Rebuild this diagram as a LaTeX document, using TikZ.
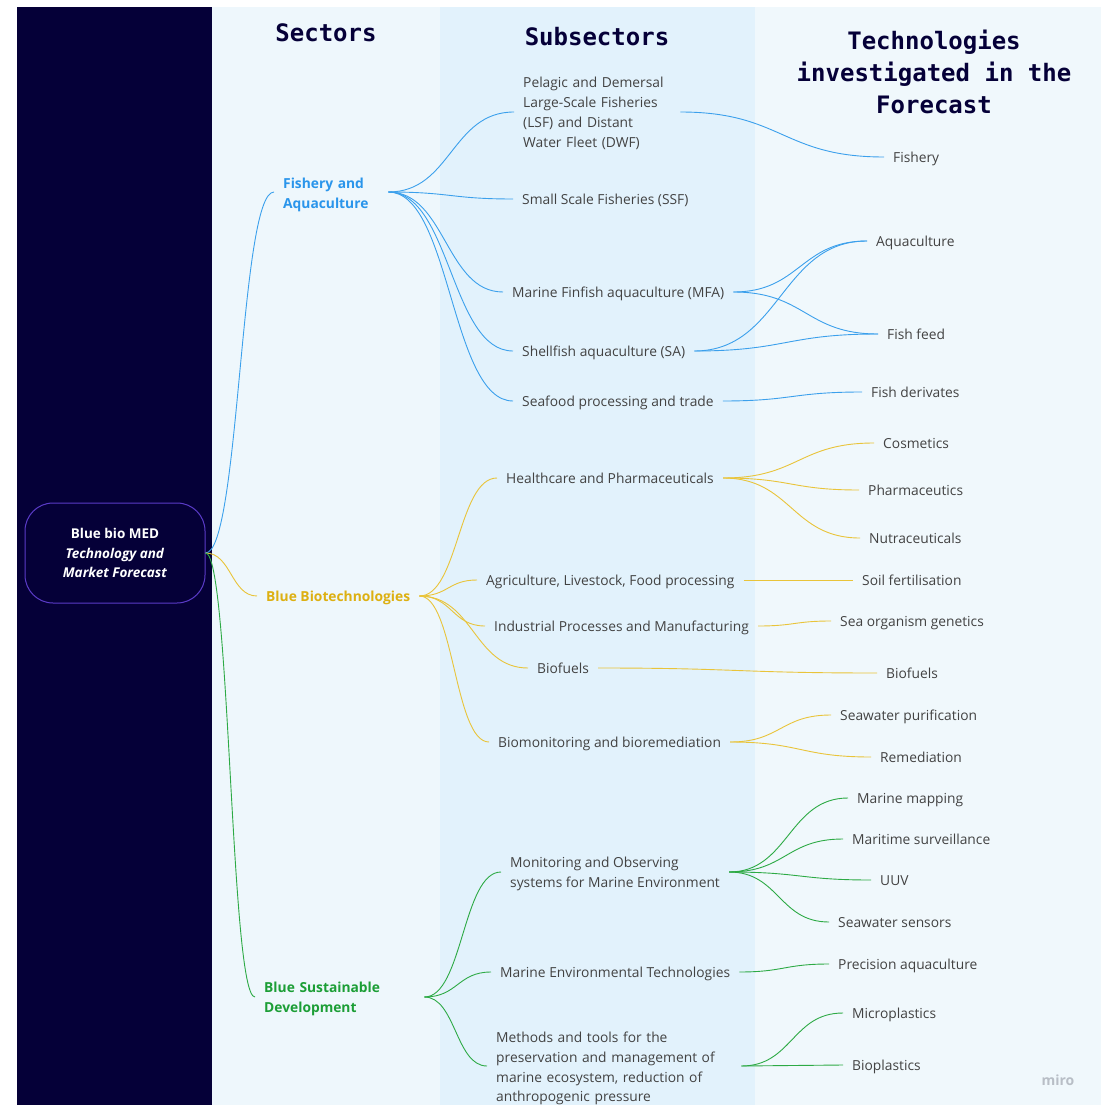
\documentclass[tikz,border=0pt]{standalone}
\usepackage{fontspec}
\setmainfont{Open Sans}
\newfontfamily\headfont{DejaVu Sans Mono}
\usetikzlibrary{calc}
\definecolor{navy}{HTML}{050038}
\definecolor{panelA}{HTML}{EEF7FC}
\definecolor{panelB}{HTML}{E2F2FC}
\definecolor{panelC}{HTML}{F0F8FC}
\definecolor{cblue}{HTML}{3BA0EC}
\definecolor{tblue}{HTML}{2A95EB}
\definecolor{cyel}{HTML}{E9C43A}
\definecolor{tyel}{HTML}{DDB012}
\definecolor{cgrn}{HTML}{2DAA45}
\definecolor{tgrn}{HTML}{1C9E36}
\definecolor{txt}{HTML}{424242}
\definecolor{rootborder}{HTML}{5A3BC8}
\definecolor{wm}{HTML}{B8BEC6}
\newcommand{\lift}[1]{\rule{0pt}{#1pt}}
\begin{document}
\begin{tikzpicture}[x=1pt,y=-1pt,
  every node/.style={inner ysep=2pt, inner xsep=9pt},
  head/.style={font=\headfont\bfseries\fontsize{24}{32}\selectfont, text=navy, align=center},
  item/.style={font=\fontsize{13.8}{19.8}\selectfont, text=txt, anchor=west, align=left,
    text height=14.3pt, text depth=3.3pt},
  multi/.style={text height=, text depth=},
  sector/.style={font=\bfseries\fontsize{13.8}{19.8}\selectfont, anchor=west, align=left,
    text height=14.3pt, text depth=3.3pt},
  root/.style={draw=rootborder, fill=navy, line width=1pt, rounded corners=28pt,
    minimum width=180pt, minimum height=100pt, text=white, align=center,
    font=\bfseries\fontsize{13.5}{19.5}\selectfont},
  link/.style={line width=0.9pt, to path={let \p1=(\tikztostart), \p2=(\tikztotarget) in
    .. controls +({0.5*(\x2-\x1)},0) and +({-0.5*(\x2-\x1)},0) .. (\tikztotarget)}},
  lb/.style={link, draw=cblue},
  ly/.style={link, draw=cyel},
  lg/.style={link, draw=cgrn}
]
\useasboundingbox (0,0) rectangle (1106,1105);
\fill[white] (0,0) rectangle (1106,1105);
\fill[navy] (17,7) rectangle (212,1105);
\fill[panelA] (212,7) rectangle (440,1105);
\fill[panelB] (440,7) rectangle (755,1105);
\fill[panelC] (755,7) rectangle (1101,1105);

% headers
\node[head] (h1) at (326,33) {Sectors};
\node[head] (h2) at (597,37) {Subsectors};
\node[head] (h3) at (934,72) {Technologies\\investigated in the\\Forecast};

% root
\node[root] (root) at (115,553) {Blue bio MED\\\textit{Technology and}\\\textit{Market Forecast}};

% sectors
\node[sector, multi, text=tblue, text width=96pt] (fa) at (274,192) {\lift{16.5}Fishery and\\Aquaculture};
\node[sector, text=tyel] (bb) at (257,596) {Blue Biotechnologies};
\node[sector, multi, text=tgrn, text width=151pt] (bsd) at (255,997) {\lift{14.5}Blue Sustainable\\Development};

% subsectors
\node[item, multi, text width=148pt] (pel) at (514,112) {\lift{13.5}Pelagic and Demersal\\Large-Scale Fisheries\\(LSF) and Distant\\Water Fleet (DWF)};
\node[item] (ssf) at (513,199) {Small Scale Fisheries (SSF)};
\node[item] (mfa) at (503,292) {Marine Finfish aquaculture (MFA)};
\node[item] (sa) at (513,351) {Shellfish aquaculture (SA)};
\node[item] (sea) at (513,401) {Seafood processing and trade};
\node[item] (hc) at (497,478) {Healthcare and Pharmaceuticals};
\node[item] (agr) at (477,580) {Agriculture, Livestock, Food processing};
\node[item] (ind) at (485,626) {Industrial Processes and Manufacturing};
\node[item] (bf) at (528,668) {Biofuels};
\node[item] (bio) at (489,742) {Biomonitoring and bioremediation};
\node[item, multi] (mon) at (501,872) {\lift{14.5}Monitoring and Observing\\systems for Marine Environment};
\node[item] (met) at (491,972) {Marine Environmental Technologies};
\node[item, multi, text width=236pt] (meth) at (487,1066) {\lift{15.5}Methods and tools for the\\preservation and management of\\marine ecosystem, reduction of\\anthropogenic pressure};

% technologies
\node[item] (fish) at (884,157) {Fishery};
\node[item] (aqua) at (867,241) {Aquaculture};
\node[item] (feed) at (878,334) {Fish feed};
\node[item] (deriv) at (862,392) {Fish derivates};
\node[item] (cosm) at (874,443) {Cosmetics};
\node[item] (pharm) at (859,490) {Pharmaceutics};
\node[item] (nutra) at (860,538) {Nutraceuticals};
\node[item] (soil) at (853,580) {Soil fertilisation};
\node[item] (gen) at (831,621) {Sea organism genetics};
\node[item] (biof) at (877,673) {Biofuels};
\node[item] (puri) at (831,715) {Seawater purification};
\node[item] (rem) at (871,757) {Remediation};
\node[item] (map) at (848,798) {Marine mapping};
\node[item] (surv) at (843,839) {Maritime surveillance};
\node[item] (uuv) at (871,880) {UUV};
\node[item] (sens) at (829,922) {Seawater sensors};
\node[item] (prec) at (829,964) {Precision aquaculture};
\node[item] (micro) at (843,1013) {Microplastics};
\node[item] (biopl) at (843,1065) {Bioplastics};

\node[font=\bfseries\fontsize{14}{16}\selectfont, text=wm] (miro) at (1058,1080) {miro};

% root to sectors
\draw[lb] (root.east) to (fa.west);
\draw[ly] (root.east) to (bb.west);
\draw[lg] (root.east) to (bsd.west);

% sector to subsectors
\foreach \t in {pel,ssf,mfa,sa,sea} \draw[lb] (fa.east) to (\t.west);
\foreach \t in {hc,agr,ind,bf,bio} \draw[ly] (bb.east) to (\t.west);
\foreach \t in {mon,met,meth} \draw[lg] (bsd.east) to (\t.west);

% subsectors to technologies
\draw[lb] (pel.east) to (fish.west);
\draw[lb] (mfa.east) to (aqua.west);
\draw[lb] (mfa.east) to (feed.west);
\draw[lb] (sa.east) to (aqua.west);
\draw[lb] (sa.east) to (feed.west);
\draw[lb] (sea.east) to (deriv.west);
\draw[ly] (hc.east) to (cosm.west);
\draw[ly] (hc.east) to (pharm.west);
\draw[ly] (hc.east) to (nutra.west);
\draw[ly] (agr.east) to (soil.west);
\draw[ly] (ind.east) to (gen.west);
\draw[ly] (bf.east) to (biof.west);
\draw[ly] (bio.east) to (puri.west);
\draw[ly] (bio.east) to (rem.west);
\draw[lg] (mon.east) to (map.west);
\draw[lg] (mon.east) to (surv.west);
\draw[lg] (mon.east) to (uuv.west);
\draw[lg] (mon.east) to (sens.west);
\draw[lg] (met.east) to (prec.west);
\draw[lg] (meth.east) to (micro.west);
\draw[lg] (meth.east) to (biopl.west);
\end{tikzpicture}
\end{document}
